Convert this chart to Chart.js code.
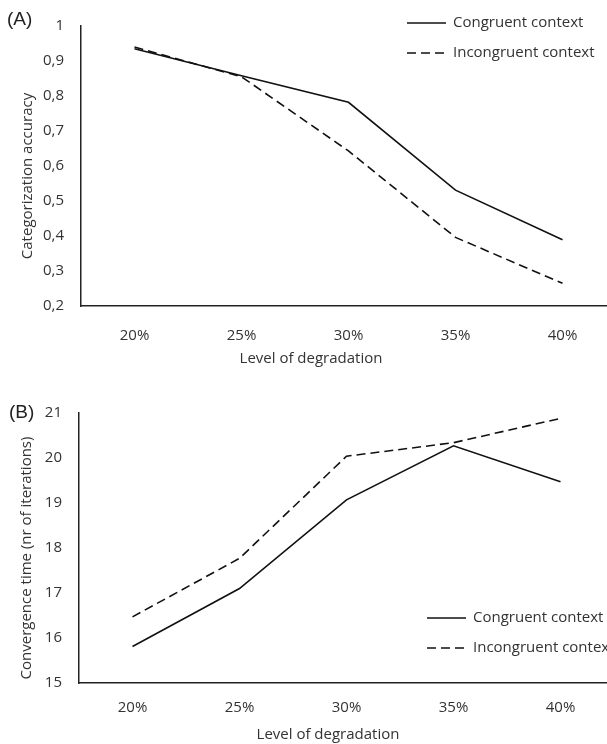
<!DOCTYPE html>
<html>
<head>
<meta charset="utf-8">
<script src="https://cdn.jsdelivr.net/npm/chart.js@4.4.1/dist/chart.umd.min.js"></script>
<style>
  html, body { margin: 0; padding: 0; background: #fff; }
  body { width: 607px; height: 744px; overflow: hidden; position: relative; }
  .panel { position: absolute; left: 0; width: 620px; height: 372px; }
  #panelA { top: 0; }
  #panelB { top: 372px; }
</style>
</head>
<body>
<div class="panel" id="panelA"><canvas id="chartA" width="620" height="372"></canvas></div>
<div class="panel" id="panelB"><canvas id="chartB" width="620" height="372"></canvas></div>
<script>
// Level of degradation (shared x categories)
const levels = ['20%', '25%', '30%', '35%', '40%'];
const seriesNames = ['Congruent context', 'Incongruent context'];

// (A) categorization accuracy
const accuracyCongruent = [0.935, 0.858, 0.782, 0.531, 0.389];
const accuracyIncongruent = [0.940, 0.855, 0.643, 0.396, 0.265];
const accuracyTicks = ['0,2', '0,3', '0,4', '0,5', '0,6', '0,7', '0,8', '0,9', '1'];

// (B) convergence time
const timeCongruent = [15.81, 17.10, 19.07, 20.27, 19.47];
const timeIncongruent = [16.47, 17.77, 20.04, 20.34, 20.88];
const timeTicks = ['15', '16', '17', '18', '19', '20', '21'];

const FONT = "'Open Sans', sans-serif";
const TEXT = '#333';
const AXIS = '#222';

// panel letter, axis titles and the small legend, placed like the original figure
const figureText = {
    id: 'figureText',
    afterDraw(chart, args, o) {
        const ctx = chart.ctx;
        ctx.save();
        ctx.fillStyle = '#222';
        ctx.font = '19px "Liberation Sans", Arial, sans-serif';
        ctx.textAlign = 'left';
        ctx.textBaseline = 'middle';
        ctx.fillText(o.panel, o.panelX, o.panelY);

        ctx.fillStyle = TEXT;
        ctx.font = '15px ' + FONT;
        ctx.textAlign = 'center';
        ctx.fillText(o.xTitle, o.xTitleX, o.xTitleY);

        ctx.save();
        ctx.translate(o.yTitleX, o.yTitleY);
        ctx.rotate(-Math.PI / 2);
        ctx.fillText(o.yTitle, 0, 0);
        ctx.restore();

        // legend
        ctx.textAlign = 'left';
        chart.data.datasets.forEach(function(ds, i) {
            const y = o.legendY + i * o.legendGap;
            ctx.save();
            ctx.strokeStyle = ds.borderColor;
            ctx.lineWidth = ds.borderWidth;
            ctx.setLineDash(ds.borderDash || []);
            ctx.beginPath();
            ctx.moveTo(o.legendX, y);
            ctx.lineTo(o.legendX + o.legendLine, y);
            ctx.stroke();
            ctx.restore();
            ctx.fillStyle = TEXT;
            ctx.fillText(ds.label, o.legendX + o.legendLine + 7, y);
        });
        ctx.restore();
    }
};

function makeDatasets(solid, dashed) {
    return [{
        label: seriesNames[0],
        data: solid,
        borderColor: '#111',
        borderWidth: 1.6,
        pointRadius: 0,
        tension: 0
    }, {
        label: seriesNames[1],
        data: dashed,
        borderColor: '#111',
        borderWidth: 1.6,
        borderDash: [9, 5],
        pointRadius: 0,
        tension: 0
    }];
}

function makeChart(id, cfg) {
    const ctx = document.getElementById(id).getContext('2d');
    return new Chart(ctx, {
        type: 'line',
        data: {
            labels: levels,
            datasets: makeDatasets(cfg.solid, cfg.dashed)
        },
        plugins: [figureText],
        options: {
            responsive: false,
            animation: false,
            devicePixelRatio: 1,
            layout: { padding: { left: 0, top: cfg.top, right: cfg.right, bottom: 0 } },
            plugins: {
                legend: { display: false },
                tooltip: { enabled: false },
                figureText: cfg.text
            },
            scales: {
                x: {
                    offset: true,
                    grid: { display: false, drawTicks: false },
                    border: { display: true, color: AXIS, width: 1.5 },
                    ticks: { color: TEXT, font: { family: FONT, size: 15 }, padding: cfg.xPad, maxRotation: 0 },
                    afterFit: function(scale) { scale.height = cfg.xHeight; }
                },
                y: {
                    min: cfg.min,
                    max: cfg.max,
                    grid: { display: false, drawTicks: false },
                    border: { display: true, color: AXIS, width: 1.5 },
                    ticks: {
                        stepSize: cfg.step,
                        padding: 17,
                        color: TEXT,
                        font: { family: FONT, size: 15 },
                        callback: function(value, index) { return cfg.ticks[index]; }
                    },
                    afterFit: function(scale) { scale.width = cfg.yWidth; }
                }
            }
        }
    });
}

// (A) plot area roughly x 81..616, y 15..306
makeChart('chartA', {
    solid: accuracyCongruent,
    dashed: accuracyIncongruent,
    ticks: accuracyTicks,
    min: 0.2, max: 1, step: 0.1,
    top: 15, right: 4, yWidth: 81, xHeight: 66, xPad: 21,
    text: {
        panel: '(A)', panelX: 7, panelY: 20,
        xTitle: 'Level of degradation', xTitleX: 311, xTitleY: 359,
        yTitle: 'Categorization accuracy', yTitleX: 28, yTitleY: 176,
        legendX: 407, legendY: 23, legendGap: 30, legendLine: 39
    }
});

// (B) plot area roughly x 79..614, y 413..683 (page)
makeChart('chartB', {
    solid: timeCongruent,
    dashed: timeIncongruent,
    ticks: timeTicks,
    min: 15, max: 21, step: 1,
    top: 41, right: 6, yWidth: 79, xHeight: 61, xPad: 16,
    text: {
        panel: '(B)', panelX: 9, panelY: 41,
        xTitle: 'Level of degradation', xTitleX: 328, xTitleY: 363,
        yTitle: 'Convergence time (nr of iterations)', yTitleX: 27, yTitleY: 186,
        legendX: 427, legendY: 246, legendGap: 30, legendLine: 39
    }
});
</script>
</body>
</html>
